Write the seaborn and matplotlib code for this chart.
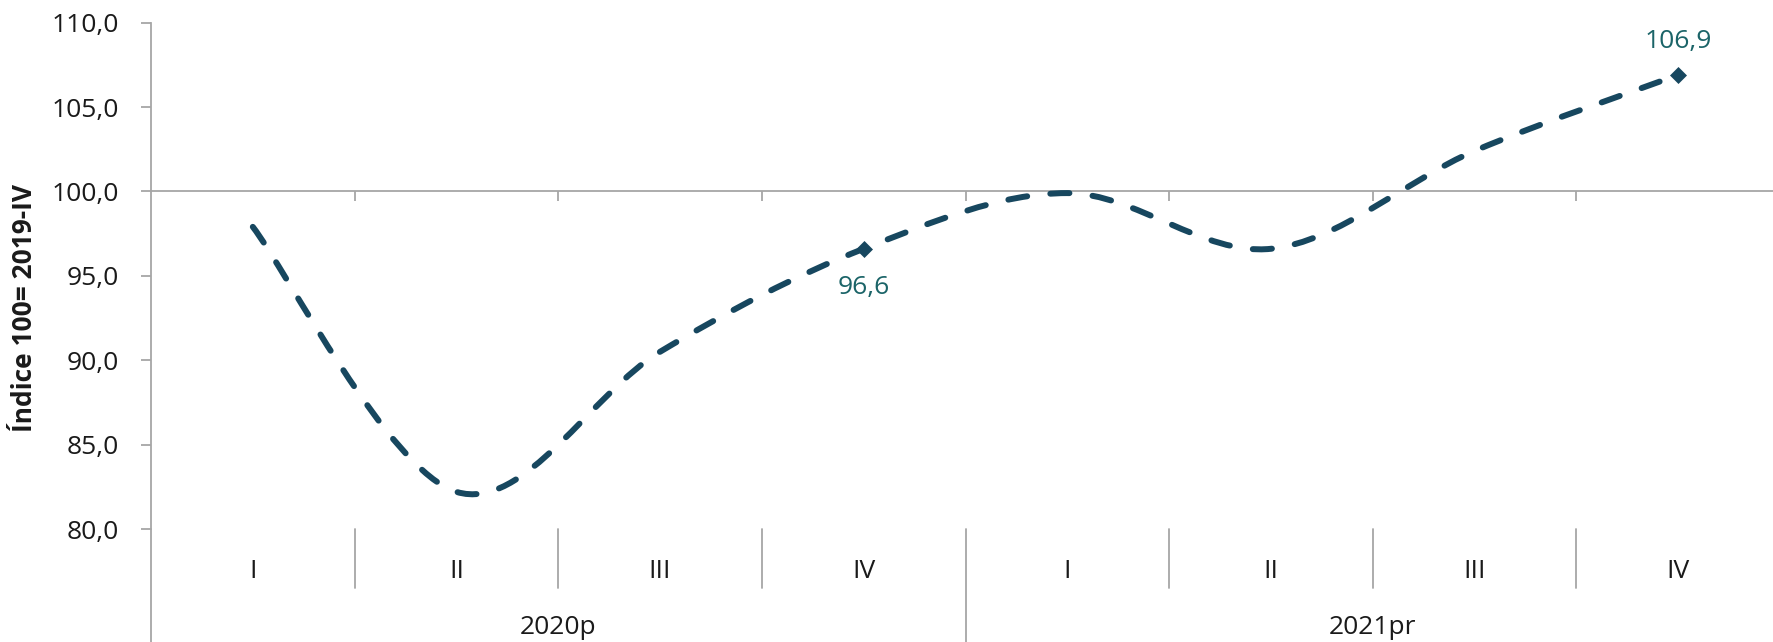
import numpy as np
import pandas as pd
import matplotlib
matplotlib.use("Agg")
import matplotlib.pyplot as plt
from matplotlib.path import Path
from matplotlib.patches import PathPatch
import seaborn as sns

# Data: quarterly index (100 = 2019-IV)
quarters = ["I", "II", "III", "IV", "I", "II", "III", "IV"]
years = ["2020p", "2021pr"]
values = [97.9, 82.2, 90.5, 96.6, 99.9, 96.6, 102.4, 106.9]
labelled = [3, 7]  # points that carry a marker and a value label
y_ticks = [80, 85, 90, 95, 100, 105, 110]

LINE_COLOR = "#17475F"
LABEL_COLOR = "#1B6468"
AXIS_COLOR = "#A6A6A6"
TEXT_COLOR = "#1A1A1A"
FS = 19

sns.set_theme(style="white")
plt.rcParams["font.family"] = ["Open Sans", "DejaVu Sans"]

fig = plt.figure(figsize=(17.73, 6.42), dpi=100)
ax = fig.add_axes([151 / 1773, 1 - 529 / 642, 1629 / 1773, 506.4 / 642])

# category centres
x = np.arange(len(values)) + 0.5
y = np.array(values)

# Smoothed line (Excel style Catmull-Rom Bezier through the data points)
pts = np.column_stack([x, y])
ext = np.vstack([pts[0], pts, pts[-1]])
verts = [pts[0]]
codes = [Path.MOVETO]
for i in range(len(pts) - 1):
    p0, p1, p2, p3 = ext[i], ext[i + 1], ext[i + 2], ext[i + 3]
    verts += [p1 + (p2 - p0) / 6, p2 - (p3 - p1) / 6, p2]
    codes += [Path.CURVE4] * 3
curve = PathPatch(Path(verts, codes), facecolor="none", edgecolor=LINE_COLOR,
                  linewidth=4.3, linestyle=(0, (3.2, 3.9)), capstyle="round",
                  zorder=3)
ax.add_patch(curve)

# Diamond markers on the labelled points
marks = pd.DataFrame({"x": x[labelled], "y": y[labelled]})
sns.scatterplot(data=marks, x="x", y="y", marker="D", s=75, color=LINE_COLOR,
                edgecolor=LINE_COLOR, linewidth=0, zorder=4, ax=ax)

# Value labels
ax.annotate(f"{values[3]:.1f}".replace(".", ","), (x[3], y[3]), xytext=(0, -28),
            textcoords="offset points", ha="center", va="center",
            fontsize=FS, color=LABEL_COLOR)
ax.annotate(f"{values[7]:.1f}".replace(".", ","), (x[7], y[7]), xytext=(0, 24),
            textcoords="offset points", ha="center", va="center",
            fontsize=FS, color=LABEL_COLOR)

# Axes
ax.set_xlim(0, len(values))
ax.set_ylim(80, 110)
ax.set_xlabel("")
ax.set_ylabel("")
ax.set_yticks(y_ticks)
ax.set_yticklabels([f"{v:.1f}".replace(".", ",") for v in y_ticks])
ax.set_xticks(np.arange(1, len(values)))
ax.tick_params(axis="y", left=True, length=7, width=1.3, color=AXIS_COLOR,
               pad=16, labelsize=FS, labelcolor=TEXT_COLOR, direction="out")
ax.tick_params(axis="x", bottom=True, length=7, width=1.3, color=AXIS_COLOR,
               labelbottom=False, direction="out")

for side in ["top", "right"]:
    ax.spines[side].set_visible(False)
ax.spines["left"].set_color(AXIS_COLOR)
ax.spines["left"].set_linewidth(1.3)
ax.spines["bottom"].set_position(("data", 100))
ax.spines["bottom"].set_color(AXIS_COLOR)
ax.spines["bottom"].set_linewidth(1.3)

# Category area below the plot: quarter and year separators and labels
trans = ax.get_xaxis_transform()
ax.plot([0, 0], [0, -0.23], transform=trans, color=AXIS_COLOR, lw=1.3, clip_on=False)
for b in range(1, len(values)):
    low = -0.23 if b % 4 == 0 else -0.1165
    ax.plot([b, b], [0, low], transform=trans, color=AXIS_COLOR, lw=1.3, clip_on=False)
for i, q in enumerate(quarters):
    ax.text(x[i], -0.083, q, transform=trans, ha="center", va="center",
            fontsize=FS, color=TEXT_COLOR)
for j, yr in enumerate(years):
    ax.text(4 * j + 2, -0.194, yr, transform=trans, ha="center", va="center",
            fontsize=FS, color=TEXT_COLOR)

fig.text(25 / 1773, 1 - 308 / 642, "Índice 100= 2019-IV", rotation=90,
         ha="center", va="center", fontsize=FS, fontweight="bold", color=TEXT_COLOR)

fig.savefig("out.png", dpi=100)
